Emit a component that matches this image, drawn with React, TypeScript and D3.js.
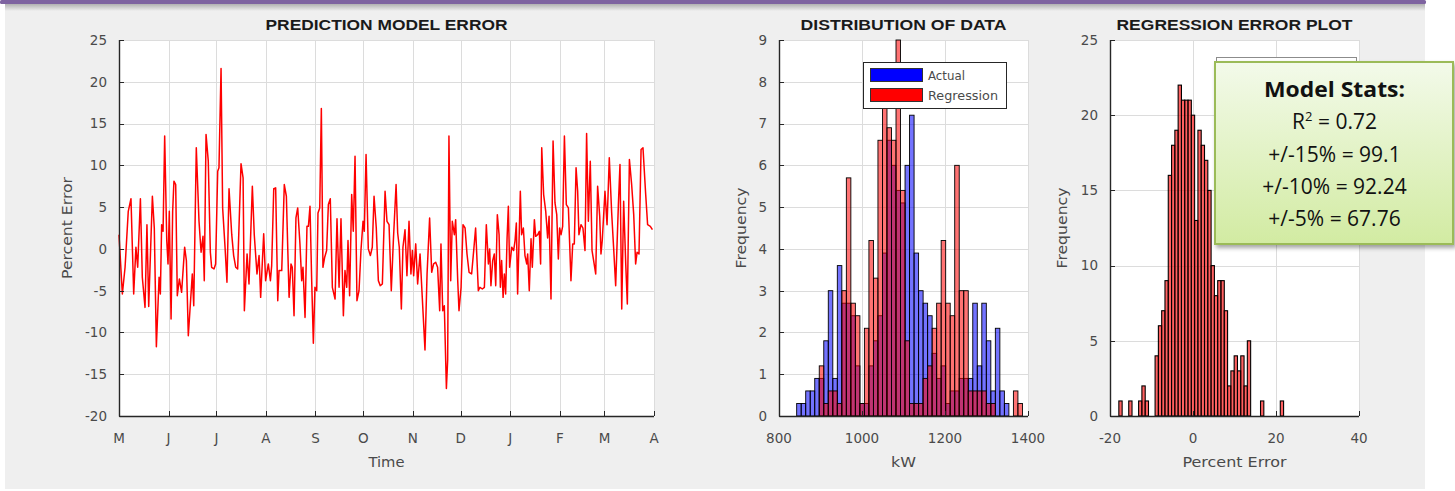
import React, { useEffect } from 'react';
import * as d3 from 'd3';

// ---- values ----
const startDate = new Date(Date.UTC(2014, 4, 1));
const endDate = new Date(Date.UTC(2015, 3, 1));

// day offset from 1 May, percent error
const errDays = [
  0.0, 2.1, 3.8, 5.8, 7.5, 9.2, 10.6, 11.7, 13.4, 14.6, 16.3, 17.5, 18.6, 20.9, 22.1, 23.4, 25.1, 25.9, 26.7, 27.6,
  28.6, 29.9, 30.7, 31.5, 32.6, 33.6, 34.4, 35.5, 36.5, 37.8, 39.2, 41.1, 42.2, 43.4, 45.9, 46.8, 48.4, 50.1, 51.4, 52.6,
  53.4, 54.5, 55.9, 57.2, 58.0, 59.5, 60.5, 61.8, 62.6, 63.9, 64.9, 66.4, 67.6, 68.9, 70.6, 71.8, 73.1, 74.3, 76.4, 77.7,
  78.5, 80.2, 81.4, 83.5, 84.7, 86.4, 87.7, 88.7, 90.6, 91.8, 93.5, 94.8, 95.6, 96.9, 98.1, 99.4, 100.2, 101.9, 103.5, 104.8,
  106.5, 107.7, 108.5, 109.6, 110.8, 111.9, 113.3,
  114.4, 115.2, 116.5, 117.7, 118.6, 119.6, 120.6, 121.7, 122.7, 123.8, 124.6, 125.7, 126.7, 127.7, 128.8, 130.0, 131.1, 132.3, 133.6, 135.3,
  136.5, 137.8, 139.0, 140.5, 141.5, 142.6, 143.4, 144.4, 145.7, 146.7, 147.8, 149.0, 150.3, 151.5, 152.8, 153.6, 154.7, 156.1, 157.4, 158.6,
  159.7, 161.1, 162.4, 163.6, 164.9, 166.6, 167.8, 169.1, 170.5, 171.8, 173.5, 174.5, 175.5, 176.8, 177.8, 179.1, 180.3, 181.6, 182.8, 183.7,
  184.5, 185.8, 187.0, 188.5, 189.9, 191.6, 192.9, 194.5, 195.8, 197.0, 198.3, 199.5, 200.8, 201.6, 202.7, 203.7, 205.0, 205.8, 206.6, 207.7,
  208.7, 210.0, 210.8, 212.1, 212.9, 214.2, 215.4, 216.7, 217.9, 219.2, 220.8, 222.1, 223.3, 225.0, 226.0,
  227.5, 228.8, 230.0, 231.3, 232.1, 232.9, 234.0, 235.0, 235.9, 236.9, 238.0, 238.8, 239.6, 240.5, 241.3, 242.1, 243.0, 243.8, 244.6, 245.9,
  247.1, 248.0, 248.8, 249.6, 250.5, 251.3, 252.1, 253.2, 254.2, 255.3, 255.9, 256.9, 258.0, 258.8, 260.1, 260.9, 262.2, 263.2, 264.0, 264.7,
  265.9, 267.2, 268.4, 269.3, 270.5, 271.8, 273.0, 274.1, 275.1, 275.9, 276.8, 277.8, 278.9, 280.1, 281.4, 283.0, 284.1, 285.1, 286.2, 287.2,
  288.0, 289.3, 290.5, 291.8, 292.8, 293.9, 295.1, 296.2, 297.2, 298.5, 299.7, 301.0, 301.8, 302.6, 304.3, 305.6, 307.0, 308.5, 309.7, 311.0,
  312.7, 313.7, 314.8, 316.0, 317.3, 318.3, 319.6, 321.0, 322.3, 323.5, 324.4, 325.6, 326.9, 328.1, 329.8, 331.0, 332.7, 334.0,
];
const errPct = [
  1.7, -5.4, -2.2, 4.5, 6.0, -5.4, 0.2, -2.2, 6.0, -3.4, -7.0, 2.9, -6.9, 6.3, 2.5, -11.7, -3.4, -5.4, 2.9, 2.1,
  13.5, 1.0, -1.8, 4.5, -8.4, 4.5, 8.1, 7.7, -5.6, -3.6, -5.2, 0.2, -1.4, -10.4, -3.0, -6.8, 12.1, 3.3, -0.4, 1.5,
  -3.8, 13.7, 10.5, -0.4, -2.2, -2.4, -1.8, 9.3, 9.7, 21.6, 4.9, 0.2, -4.0, 7.2, 1.7, -0.8, -2.2, -2.4, 10.2, 8.5,
  -7.4, -0.6, -4.2, 7.5, 1.7, -3.0, -0.8, -5.8, 1.8, -3.8, -1.8, -3.8, -2.0, 7.2, 7.3, -6.2, -2.6, -2.6, 7.7, 6.3,
  -5.8, -1.8, -2.2, -8.0, 3.7, 4.9, 0.6,
  -3.8, -2.2, -8.2, 2.7, 2.7, 5.1, -3.4, -11.3, -4.6, -5.0, 4.3, 4.9, 16.8, -2.2, -1.0, -0.2, 5.3, 6.0, -4.6, -6.0,
  3.6, -4.6, 3.6, -8.0, -2.6, -4.6, 1.0, -5.6, 6.5, 2.1, 11.1, -6.2, -5.0, -0.2, 3.3, 2.1, 11.3, 0.0, -0.8, 0.2,
  6.3, 2.5, -3.8, -4.4, -4.2, 6.9, 3.3, 2.9, -5.0, 1.0, 7.7, 1.9, 0.2, -7.2, 0.2, 2.3, -3.2, 3.3, -3.0, -0.2,
  -3.2, 0.6, -4.2, -0.6, -5.8, -12.1, -3.0, 3.7, -2.8, -1.8, -1.6, -2.2, -7.4, 0.6, -7.4, -6.8, -16.7, -13.3, 13.5, -3.8,
  3.3, 1.7, 3.5, -3.8, -7.4, -4.6, 2.9, 2.5, -0.6, -2.8, -3.0, -0.2, 2.5, -5.0, -4.6,
  -4.8, -4.6, 2.9, -1.8, 0.0, -4.4, -1.4, -0.6, -4.4, 4.1, 1.7, -4.6, -1.4, -5.8, -3.0, -5.4, 1.3, 5.1, -2.2, 0.2,
  -0.2, 1.0, 3.1, -5.4, 1.0, 6.9, 1.7, 2.5, -0.8, -1.8, -0.6, -5.0, 1.2, -2.2, 3.5, 1.5, 1.7, 2.1, -1.8, 12.1,
  6.5, 4.5, 1.3, 3.9, -6.0, 12.9, 5.5, 4.1, -1.2, 2.5, 1.7, 2.7, 13.5, 5.3, 4.9, -3.8, 0.6, 0.6, 9.7, 6.9,
  1.7, 2.9, 2.5, -0.2, 13.8, 3.3, 10.5, -0.2, -1.4, -3.0, 7.5, 3.9, -0.6, 1.0, 6.9, 2.9, 10.9, 4.3, 0.2, -4.4,
  5.3, 10.1, -7.2, 5.7, -1.8, -6.6, 10.7, 7.7, 4.1, -1.8, -0.4, -0.6, 11.9, 12.1, 6.5, 2.9, 2.7, 2.3,
];

// distribution of data (kW), 50 shared bins
const kwBinStart = 842.6;
const kwBinWidth = 10.88;
const actualFreq = [
  0.3, 0.3, 0.6, 0.6, 0.9, 0.9, 1.8, 3.0, 0.9, 3.6,
  2.7, 2.7, 2.4, 1.2, 0.3, 0.3, 1.2, 1.8, 2.4, 3.9,
  6.6, 6.0, 5.4, 5.1, 6.0, 7.2, 3.9, 3.0, 2.7, 2.4,
  1.5, 0.9, 1.2, 0.3, 0.6, 0.6, 0.9, 0.9, 0.9, 2.7,
  1.2, 2.7, 1.8, 0.6, 2.1, 0.6, 0.3, 0, 0, 0,
];
const regressionFreq = [
  0, 0, 0, 0, 0, 1.2, 0.3, 0.6, 0.6, 0.3,
  3.0, 5.7, 2.7, 2.4, 0.3, 2.1, 4.2, 3.3, 6.6, 7.8,
  6.9, 6.6, 9.0, 5.4, 1.8, 0.3, 0.3, 0.3, 0.9, 1.2,
  2.1, 2.7, 4.2, 2.7, 2.4, 6.0, 3.0, 3.0, 0.6, 0.6,
  0.6, 0.6, 0.3, 0.3, 0, 0, 0, 0, 0.6, 0.3,
];

// regression error histogram (percent), 50 bins
const errBinStart = -17.87;
const errBinWidth = 0.794;
const errFreq = [
  1, 0, 0, 1, 0, 0, 1, 2, 1, 0,
  0, 4, 6, 7, 9, 16, 18, 19, 22, 21,
  21, 21, 20, 13, 19, 18, 17, 15, 10, 8,
  9, 9, 7, 2, 3, 4, 3, 4, 2, 5,
  0, 0, 0, 1, 0, 0, 0, 0, 0, 1,
];

const statsTitle = 'Model Stats:';
const rSquared = '0.72';
const statLines = ['+/-15% = 99.1', '+/-10% = 92.24', '+/-5% = 67.76'];

const W = 1455;
const H = 491;
const FONT = '"DejaVu Sans", "Liberation Sans", sans-serif';
const GRID = '#dcdcdc';
const AXIS = '#262626';
const LABEL = '#4a4a4a';
const px = (v: number) => Math.round(v) + 0.5;

function Grid({ x, y, xTicks, yTicks }: any) {
  const [x0, x1] = x.range();
  const [y1, y0] = y.range();
  return (
    <g>
      <rect x={x0} y={y0} width={x1 - x0} height={y1 - y0} fill="#fff" />
      {xTicks.map((t: any, i: number) => (
        <line key={'gx' + i} x1={px(x(t))} x2={px(x(t))} y1={y0} y2={y1} stroke={GRID} />
      ))}
      {yTicks.map((t: number, i: number) => (
        <line key={'gy' + i} x1={x0} x2={x1} y1={px(y(t))} y2={px(y(t))} stroke={GRID} />
      ))}
    </g>
  );
}

function Frame({ x, y, xTicks, yTicks, xFmt, title, titleW, xLabel, xLabelW, yLabel, yLabelW, yLabelX }: any) {
  const [x0, x1] = x.range();
  const [y1, y0] = y.range();
  const cx = (x0 + x1) / 2;
  const cy = (y0 + y1) / 2;
  return (
    <g fontFamily={FONT}>
      <line x1={px(x0)} x2={px(x0)} y1={y0} y2={px(y1)} stroke={AXIS} strokeWidth={1.4} />
      <line x1={px(x0)} x2={x1} y1={px(y1)} y2={px(y1)} stroke={AXIS} strokeWidth={1.4} />
      {xTicks.map((t: any, i: number) => (
        <g key={'tx' + i}>
          <line x1={px(x(t))} x2={px(x(t))} y1={y1} y2={y1 - 5} stroke={AXIS} />
          <text x={x(t)} y={y1 + 27} textAnchor="middle" fontSize={13.5} fill={LABEL}>{xFmt(t)}</text>
        </g>
      ))}
      {yTicks.map((t: number, i: number) => (
        <g key={'ty' + i}>
          <line x1={x0} x2={x0 + 5} y1={px(y(t))} y2={px(y(t))} stroke={AXIS} />
          <text x={x0 - 12} y={y(t)} dy="0.36em" textAnchor="end" fontSize={13.5} fill={LABEL}>{t}</text>
        </g>
      ))}
      <text x={cx} y={30} textAnchor="middle" fontSize={14} fontWeight="bold" fill="#1a1a1a"
        fontFamily='"Liberation Sans", Arial, sans-serif'
        textLength={titleW} lengthAdjust="spacingAndGlyphs">{title}</text>
      <text x={cx} y={467} textAnchor="middle" fontSize={14} fill={LABEL}
        textLength={xLabelW} lengthAdjust="spacingAndGlyphs">{xLabel}</text>
      <text transform={`translate(${yLabelX},${cy}) rotate(-90)`} textAnchor="middle" dy="0.35em" fontSize={14}
        fill={LABEL} textLength={yLabelW} lengthAdjust="spacingAndGlyphs">{yLabel}</text>
    </g>
  );
}

function Bars({ freq, start, width, x, y, fill, opacity, edge }: any) {
  return (
    <g>
      {freq.map((v: number, i: number) => {
        if (!v) return null;
        const a = x(start + i * width);
        const b = x(start + (i + 1) * width);
        return (
          <rect key={i} x={a} y={y(v)} width={b - a} height={y(0) - y(v)} fill={fill} fillOpacity={opacity}
            stroke="#000" strokeWidth={edge} />
        );
      })}
    </g>
  );
}

export default function App() {
  useEffect(() => {
    document.body.style.margin = '0';
  }, []);

  // prediction model error (time series)
  const xT = d3.scaleUtc().domain([startDate, endDate]).range([119, 654]);
  const yE = d3.scaleLinear().domain([-20, 25]).range([416, 40]);
  const monthTicks = d3.utcMonth.range(startDate, d3.utcDay.offset(endDate, 1));
  const yETicks = d3.range(-20, 26, 5);
  const dayToDate = (d: number) => new Date(startDate.getTime() + d * 864e5);
  const linePath = d3.line<number>()
    .x((_, i) => xT(dayToDate(errDays[i])))
    .y((d) => yE(d))(errPct);

  // distribution of data
  const xK = d3.scaleLinear().domain([800, 1400]).range([779, 1028]);
  const yF = d3.scaleLinear().domain([0, 9]).range([416, 40]);
  const kTicks = [800, 1000, 1200, 1400];
  const fTicks = d3.range(0, 10, 1);

  // regression error plot
  const xP = d3.scaleLinear().domain([-20, 40]).range([1110, 1359]);
  const yP = d3.scaleLinear().domain([0, 25]).range([416, 40]);
  const pTicks = [-20, 0, 20, 40];
  const rTicks = d3.range(0, 26, 5);

  return (
    <svg width={W} height={H} style={{ position: 'absolute', left: 0, top: 0, display: 'block' }}>
      <defs>
        <linearGradient id="topShadow" x1="0" y1="0" x2="0" y2="1">
          <stop offset="0" stopColor="#a8a8a8" />
          <stop offset="1" stopColor="#efefef" />
        </linearGradient>
        <linearGradient id="statsFill" x1="0" y1="0" x2="0" y2="1">
          <stop offset="0" stopColor="#f3faea" />
          <stop offset="1" stopColor="#d2eba2" />
        </linearGradient>
        <filter id="shadow" x="-10%" y="-10%" width="130%" height="130%">
          <feDropShadow dx="2" dy="3" stdDeviation="2" floodColor="#000" floodOpacity="0.35" />
        </filter>
      </defs>
      <rect width={W} height={H} fill="#fff" />
      <rect x={5} y={0} width={1420} height={489} fill="#efefef" />
      <rect x={5} y={3} width={1420} height={8} fill="url(#topShadow)" />
      <rect x={0} y={0} width={1426} height={4} rx={1.5} fill="#7e63a0" />

      {/* left: prediction model error */}
      <Grid x={xT} y={yE} xTicks={monthTicks} yTicks={yETicks} />
      <path d={linePath || ''} fill="none" stroke="#ff0000" strokeWidth={1.5} strokeLinejoin="round" />
      <Frame x={xT} y={yE} xTicks={monthTicks} yTicks={yETicks}
        xFmt={(d: Date) => d3.utcFormat('%b')(d)[0]}
        title="PREDICTION MODEL ERROR" titleW={242} xLabel="Time" xLabelW={36}
        yLabel="Percent Error" yLabelW={102} yLabelX={67} />

      {/* middle: distribution of data */}
      <Grid x={xK} y={yF} xTicks={kTicks} yTicks={fTicks} />
      <Bars freq={actualFreq} start={kwBinStart} width={kwBinWidth} x={xK} y={yF} fill="#0000ff" opacity={0.55} edge={0.9} />
      <Bars freq={regressionFreq} start={kwBinStart} width={kwBinWidth} x={xK} y={yF} fill="#ff0000" opacity={0.55} edge={0.9} />
      <Frame x={xK} y={yF} xTicks={kTicks} yTicks={fTicks} xFmt={(d: number) => String(d)}
        title="DISTRIBUTION OF DATA" titleW={206} xLabel="kW" xLabelW={25}
        yLabel="Frequency" yLabelW={81} yLabelX={741} />
      <g fontFamily={FONT}>
        <rect x={863.5} y={62.5} width={143} height={46} fill="#fff" stroke={AXIS} />
        <rect x={870.5} y={68.5} width={52} height={13} fill="#0000ff" stroke="#333" />
        <rect x={870.5} y={88.5} width={52} height={13} fill="#ff0000" stroke="#333" />
        <text x={928} y={80} fontSize={11.5} fill={LABEL} textLength={37} lengthAdjust="spacingAndGlyphs">Actual</text>
        <text x={928} y={100} fontSize={11.5} fill={LABEL} textLength={70} lengthAdjust="spacingAndGlyphs">Regression</text>
      </g>

      {/* right: regression error plot */}
      <Grid x={xP} y={yP} xTicks={pTicks} yTicks={rTicks} />
      <Bars freq={errFreq} start={errBinStart} width={errBinWidth} x={xP} y={yP} fill="#ff0000" opacity={0.62} edge={1.1} />
      <Frame x={xP} y={yP} xTicks={pTicks} yTicks={rTicks} xFmt={(d: number) => String(d)}
        title="REGRESSION ERROR PLOT" titleW={236} xLabel="Percent Error" xLabelW={104}
        yLabel="Frequency" yLabelW={81} yLabelX={1062} />
      <rect x={1216.5} y={57.5} width={140} height={60} fill="#fff" stroke="#8c8c8c" />

      {/* stats callout */}
      <g fontFamily='"Open Sans", "Noto Sans", sans-serif' fill="#111">
        <rect x={1215} y={62} width={238} height={182} fill="url(#statsFill)" stroke="#9bbb59" strokeWidth={2}
          filter="url(#shadow)" />
        <text x={1334.5} y={97} textAnchor="middle" fontSize={21} fontWeight="bold"
          textLength={141} lengthAdjust="spacingAndGlyphs">{statsTitle}</text>
        <text x={1334.5} y={129} textAnchor="middle" fontSize={21}>
          R<tspan fontSize={13} dy={-8}>2</tspan><tspan dy={8}>{' = ' + rSquared}</tspan>
        </text>
        {statLines.map((s, i) => (
          <text key={s} x={1334.5} y={161.5 + i * 32} textAnchor="middle" fontSize={21}>{s}</text>
        ))}
      </g>
    </svg>
  );
}
